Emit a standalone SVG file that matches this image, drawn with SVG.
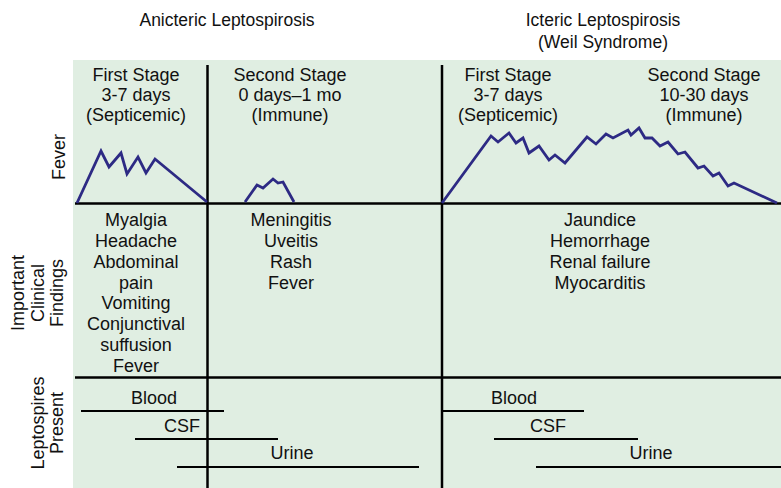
<svg xmlns="http://www.w3.org/2000/svg" width="781" height="488" viewBox="0 0 781 488">
<style>
text{font-family:"Liberation Sans",Arial,sans-serif;font-size:18px;fill:#111;text-anchor:middle}
.title{font-size:17.5px}
.grid{stroke:#000;stroke-width:2.5;fill:none}
.bar{stroke:#000;stroke-width:2;fill:none}
.curve{stroke:#2d2a84;stroke-width:2.8;fill:none;stroke-linejoin:miter}
</style>
<rect x="0" y="0" width="781" height="488" fill="#fff"/>
<rect id="panel" x="73" y="60" width="708" height="428" fill="#e0eee2"/>
<g id="titles">
<text class="title" x="227" y="26">Anicteric Leptospirosis</text>
<text class="title" x="603" y="26">Icteric Leptospirosis</text>
<text class="title" x="603" y="48">(Weil Syndrome)</text>
</g>
<g id="row-labels">
<text transform="translate(65,157) rotate(-90)">Fever</text>
<g transform="translate(0,293) rotate(-90)">
<text x="0" y="24">Important</text>
<text x="0" y="44">Clinical</text>
<text x="0" y="63">Findings</text>
</g>
<g transform="translate(0,423) rotate(-90)">
<text x="0" y="44">Leptospires</text>
<text x="0" y="63">Present</text>
</g>
</g>
<g id="connectors">
<line class="grid" x1="207.5" y1="65" x2="207.5" y2="488"/>
<line class="grid" x1="442" y1="65" x2="442" y2="488"/>
<line class="grid" x1="75" y1="203.5" x2="781" y2="203.5"/>
<line class="grid" x1="75" y1="377.5" x2="781" y2="377.5"/>
</g>
<g id="anicteric-first-header">
<text x="136" y="81">First Stage</text>
<text x="136" y="101">3-7 days</text>
<text x="136" y="121">(Septicemic)</text>
</g>
<g id="anicteric-second-header">
<text x="290" y="81">Second Stage</text>
<text x="290" y="101">0 days–1 mo</text>
<text x="290" y="121">(Immune)</text>
</g>
<g id="icteric-first-header">
<text x="508" y="81">First Stage</text>
<text x="508" y="101">3-7 days</text>
<text x="508" y="121">(Septicemic)</text>
</g>
<g id="icteric-second-header">
<text x="704" y="81">Second Stage</text>
<text x="704" y="101">10-30 days</text>
<text x="704" y="121">(Immune)</text>
</g>
<g id="fever-curves">
<polyline class="curve" points="77,203 101,151 109,167 121,153 127,174 138,157 146,173 155,159 207,202"/>
<polyline class="curve" points="245,202 257,185 263,188 273,179 278,183 283,182 294,202"/>
<polyline class="curve" points="442,203 491,136 498,142 509,133 516,143 523,138 529,153 539,146 549,160 555,155 565,163 587,137 596,144 606,134 613,138 628,130 631,135 639,128 645,138 652,138 660,146 668,142 678,154 685,152 698,168 704,166 713,176 719,173 728,186 734,183 777,203"/>
</g>
<g id="anicteric-first-findings">
<text x="136" y="226">Myalgia</text>
<text x="136" y="247">Headache</text>
<text x="136" y="268">Abdominal</text>
<text x="136" y="289">pain</text>
<text x="136" y="309">Vomiting</text>
<text x="136" y="330">Conjunctival</text>
<text x="136" y="351">suffusion</text>
<text x="136" y="372">Fever</text>
</g>
<g id="anicteric-second-findings">
<text x="291" y="226">Meningitis</text>
<text x="291" y="247">Uveitis</text>
<text x="291" y="268">Rash</text>
<text x="291" y="289">Fever</text>
</g>
<g id="icteric-findings">
<text x="600" y="226">Jaundice</text>
<text x="600" y="247">Hemorrhage</text>
<text x="600" y="268">Renal failure</text>
<text x="600" y="289">Myocarditis</text>
</g>
<g id="anicteric-leptospires">
<text x="154" y="404">Blood</text>
<line class="bar" x1="81" y1="411" x2="224" y2="411"/>
<text x="182" y="432">CSF</text>
<line class="bar" x1="135" y1="439" x2="278" y2="439"/>
<text x="292" y="459">Urine</text>
<line class="bar" x1="177" y1="467" x2="419" y2="467"/>
</g>
<g id="icteric-leptospires">
<text x="514" y="404">Blood</text>
<line class="bar" x1="442" y1="411" x2="584" y2="411"/>
<text x="548" y="432">CSF</text>
<line class="bar" x1="494" y1="439" x2="638" y2="439"/>
<text x="651" y="459">Urine</text>
<line class="bar" x1="536" y1="467" x2="781" y2="467"/>
</g>
</svg>
